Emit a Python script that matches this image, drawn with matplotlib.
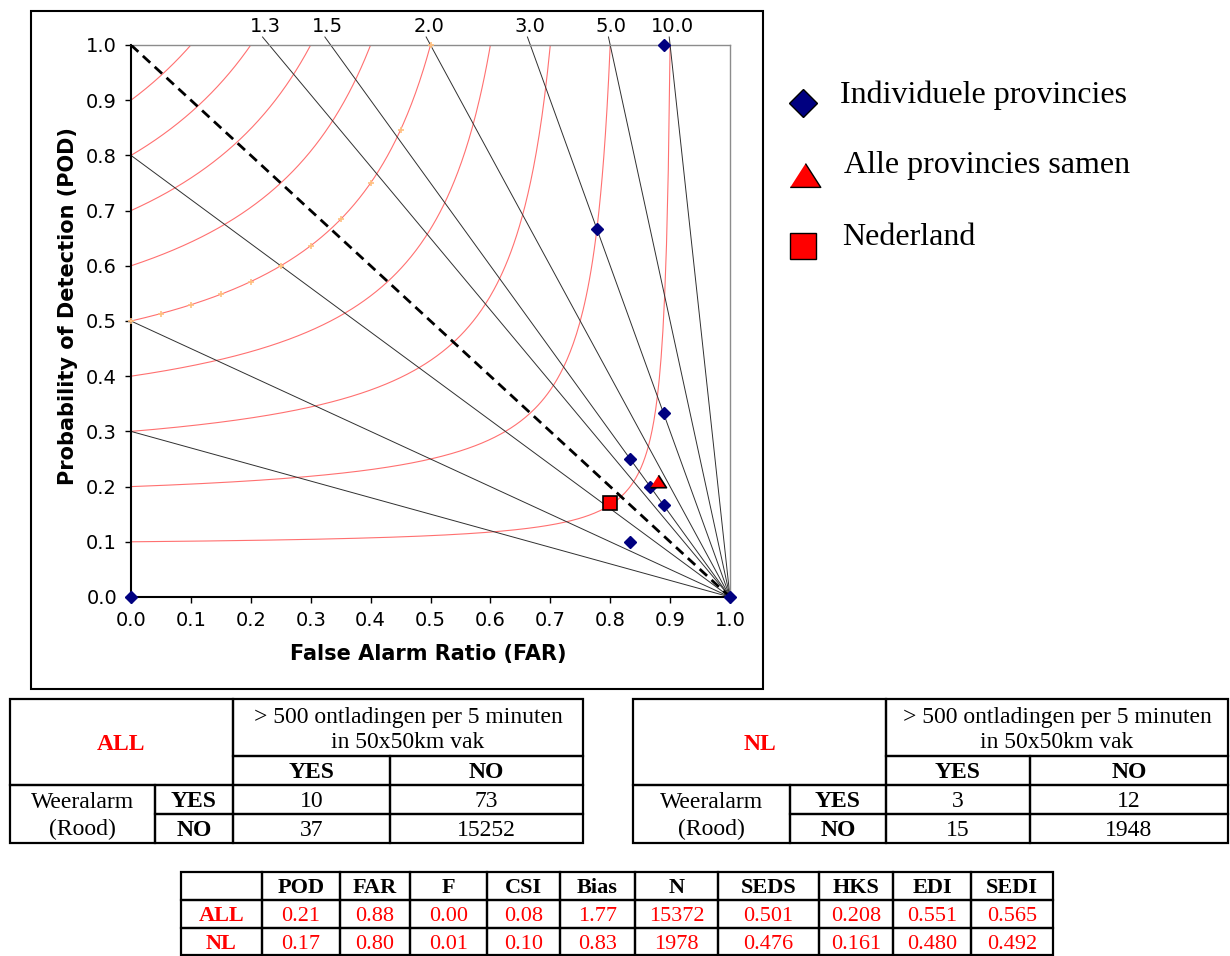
import numpy as np
import matplotlib.pyplot as plt
from matplotlib.patches import Rectangle

# verification of the red weather warnings per province (FAR, POD)
prov_far = [0.0, 0.889, 0.778, 0.889, 0.833, 0.867, 0.889, 0.833, 1.0]
prov_pod = [0.0, 1.0, 0.667, 0.333, 0.25, 0.2, 0.167, 0.1, 0.0]
all_far, all_pod = 0.88, 0.21
nl_far, nl_pod = 0.80, 0.17

# reference lines in the diagram
bias_levels = [0.3, 0.5, 0.8, 1.3, 1.5, 2.0, 3.0, 5.0, 10.0]
csi_levels = [0.1, 0.2, 0.3, 0.4, 0.5, 0.6, 0.7, 0.8, 0.9]

legend_labels = ['Individuele provincies', 'Alle provincies samen', 'Nederland']

# contingency tables
obs_header = ['> 500 ontladingen per 5 minuten', 'in 50x50km vak']
yes_no = ['YES', 'NO']
warn_label = ['Weeralarm', '(Rood)']
all_counts = [[10, 73], [37, 15252]]
nl_counts = [[3, 12], [15, 1948]]

score_names = ['POD', 'FAR', 'F', 'CSI', 'Bias', 'N', 'SEDS', 'HKS', 'EDI', 'SEDI']
all_scores = ['0.21', '0.88', '0.00', '0.08', '1.77', '15372', '0.501', '0.208', '0.551', '0.565']
nl_scores = ['0.17', '0.80', '0.01', '0.10', '0.83', '1978', '0.476', '0.161', '0.480', '0.492']

W, H = 1230, 956
fig = plt.figure(figsize=(W / 100, H / 100), dpi=100)

# overlay in pixel units for the frame, legend and tables
ov = fig.add_axes([0, 0, 1, 1])
ov.set_xlim(0, W)
ov.set_ylim(H, 0)
ov.axis('off')
ov.set_zorder(0)

ax = fig.add_axes([131 / W, (H - 597) / H, 599 / W, 552 / H])
ax.set_zorder(1)
ax.set_xlim(0, 1)
ax.set_ylim(0, 1)

# CSI curves
for c in csi_levels:
    far = np.linspace(0, 1 - c, 300)
    pod = 1.0 / (1.0 / c + 1.0 - 1.0 / (1.0 - far))
    ax.plot(far, pod, color='#ff7070', lw=0.8, zorder=2)

# small markers along the CSI = 0.5 curve
mfar = np.arange(0, 0.501, 0.05)
mpod = 1.0 / (2.0 + 1.0 - 1.0 / (1.0 - mfar))
ax.plot(mfar, mpod, ls='none', marker='+', ms=5, mew=1.2, color='#ffc080',
        zorder=3, clip_on=False)

# frequency bias lines
top = 1.0145
for b in bias_levels:
    if b < 1:
        ax.plot([0, 1], [b, 0], color='#303030', lw=0.7, zorder=2)
    else:
        x0 = 1 - top / b
        ax.plot([x0, 1], [top, 0], color='#303030', lw=0.7, zorder=2, clip_on=False)
        ax.text(x0 + 0.005, 1.0236, '%.1f' % b, ha='center', va='baseline',
                fontsize=14)
ax.plot([0, 1], [1, 0], color='black', lw=2.0, dashes=(3.6, 2.2), zorder=3)

# observations
ax.plot(prov_far, prov_pod, ls='none', marker='D', ms=6.2, color='#000080',
        zorder=6, clip_on=False)
tri = [(-1, -0.78), (1, -0.78), (0, 0.78)]
ax.plot(all_far, all_pod, ls='none', marker=tri, ms=11.5, mfc='red', mec='black',
        mew=1.2, zorder=7)
ax.plot(nl_far, nl_pod, ls='none', marker='s', ms=9.5, mfc='red', mec='black',
        mew=1.2, zorder=7)

ticks = np.arange(0, 1.01, 0.1)
ax.set_xticks(ticks)
ax.set_yticks(ticks)
ax.set_xticklabels(['%.1f' % t for t in ticks], fontsize=14)
ax.set_yticklabels(['%.1f' % t for t in ticks], fontsize=14)
ax.tick_params(direction='out', length=4.5, width=1.0, pad=5.5)
for s in ['left', 'bottom']:
    ax.spines[s].set_linewidth(1.5)
    ax.spines[s].set_color('black')
for s in ['top', 'right']:
    ax.spines[s].set_linewidth(1.0)
    ax.spines[s].set_color('#8c8c8c')

ax.set_xlabel('False Alarm Ratio (FAR)', fontsize=15, fontweight='bold')
ax.set_ylabel('Probability of Detection (POD)', fontsize=15, fontweight='bold')
ax.xaxis.set_label_coords(0.496, -0.086)
ax.yaxis.set_label_coords(-0.089, 0.527)

# chart frame
ov.add_patch(Rectangle((31, 11), 732, 678, fill=False, lw=1.5, ec='black'))

# legend to the right of the chart
serif = 'Liberation Serif'
ov.plot(803, 103, marker='D', ms=14, mfc='#000080', mec='black', mew=1.0)
ov.plot(805, 175, marker=tri, ms=22, mfc='red', mec='black', mew=1.0)
ov.plot(803, 246, marker='s', ms=19, mfc='red', mec='black', mew=1.0)
for lab, (tx, ty) in zip(legend_labels, [(840, 103), (844, 173), (842, 245)]):
    ov.text(tx, ty, lab, fontsize=23, family=serif, va='baseline', ha='left')


def cell(x0, x1, y0, y1):
    ov.add_patch(Rectangle((x0, y0), x1 - x0, y1 - y0, fill=False, lw=1.6,
                           ec='black'))


def put(x, yc, s, size=17, bold=False, color='black'):
    # centre text on a row using the cap height of the serif font
    ov.text(x, yc + 0.331 * size * 100 / 72, s, fontsize=size, family=serif,
            fontweight='bold' if bold else 'normal', color=color,
            ha='center', va='baseline')


def contingency(cols, name, counts):
    rows = [699, 756, 785, 814, 843]
    c0, c1, c2, c3, c4 = cols
    cell(c0, c2, rows[0], rows[2])
    cell(c2, c4, rows[0], rows[1])
    cell(c2, c3, rows[1], rows[2])
    cell(c3, c4, rows[1], rows[2])
    cell(c0, c1, rows[2], rows[4])
    for i in range(2):
        cell(c1, c2, rows[2 + i], rows[3 + i])
        cell(c2, c3, rows[2 + i], rows[3 + i])
        cell(c3, c4, rows[2 + i], rows[3 + i])
    put((c0 + c2) / 2, (rows[0] + rows[2]) / 2, name, bold=True, color='red')
    put((c2 + c4) / 2, 715.5, obs_header[0])
    put((c2 + c4) / 2, 740.5, obs_header[1])
    put((c2 + c3) / 2, (rows[1] + rows[2]) / 2, yes_no[0], bold=True)
    put((c3 + c4) / 2, (rows[1] + rows[2]) / 2, yes_no[1], bold=True)
    put((c0 + c1) / 2, 800.5, warn_label[0])
    put((c0 + c1) / 2, 827.5, warn_label[1])
    for i in range(2):
        yc = (rows[2 + i] + rows[3 + i]) / 2
        put((c1 + c2) / 2, yc, yes_no[i], bold=True)
        put((c2 + c3) / 2, yc, str(counts[i][0]))
        put((c3 + c4) / 2, yc, str(counts[i][1]))


contingency([10, 155, 233, 390, 583], 'ALL', all_counts)
contingency([633, 790, 886, 1030, 1228], 'NL', nl_counts)

# table with the verification scores
scols = [181, 262, 340, 410, 487, 560, 635, 718, 819, 893, 971, 1053]
srows = [872, 900, 928, 955]
for r in range(3):
    for k in range(len(scols) - 1):
        cell(scols[k], scols[k + 1], srows[r], srows[r + 1])
mids = [(scols[k] + scols[k + 1]) / 2 for k in range(len(scols) - 1)]
hy = [(srows[r] + srows[r + 1]) / 2 for r in range(3)]
for k, nm in enumerate(score_names):
    put(mids[k + 1], hy[0], nm, size=16, bold=True)
put(mids[0], hy[1], 'ALL', size=16, bold=True, color='red')
put(mids[0], hy[2], 'NL', size=16, bold=True, color='red')
for k in range(len(score_names)):
    put(mids[k + 1], hy[1], all_scores[k], size=16, color='red')
    put(mids[k + 1], hy[2], nl_scores[k], size=16, color='red')

fig.savefig('out.png', dpi=100)
